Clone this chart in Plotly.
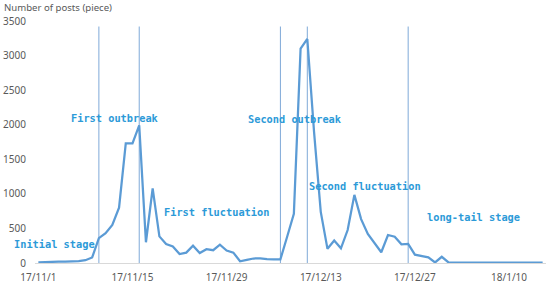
import plotly.graph_objects as go
import pandas as pd

# Daily number of posts, 2017-11-01 .. 2018-01-15
dates = pd.date_range("2017-11-01", "2018-01-15", freq="D").strftime("%Y-%m-%d").tolist()
posts = [8, 15, 18, 20, 20, 22, 28, 40, 80, 360,
         430, 550, 800, 1730, 1730, 1990, 300, 1080, 385, 275,
         240, 130, 150, 250, 145, 200, 185, 265, 180, 150,
         25, 45, 65, 68, 55, 53, 53, 380, 710, 3100,
         3240, 1900, 740, 205, 325, 212, 477, 985, 635, 420,
         285, 155, 405, 380, 270, 275, 120, 105, 82, 8,
         90, 8, 6, 5, 5, 5, 5, 5, 5, 5,
         5, 5, 15, 5, 5, 5]

tick_dates = ["2017-11-01", "2017-11-15", "2017-11-29", "2017-12-13", "2017-12-27", "2018-01-10"]
tick_labels = ["17/11/1", "17/11/15", "17/11/29", "17/12/13", "17/12/27", "18/1/10"]
y_ticks = [0, 500, 1000, 1500, 2000, 2500, 3000, 3500]

stage_lines = ["2017-11-10", "2017-11-16", "2017-12-07", "2017-12-11", "2017-12-26"]
stage_names = ["Initial stage", "First outbreak", "First fluctuation",
               "Second outbreak", "Second fluctuation", "long-tail stage"]
stage_pos_x = [0.039, 0.1575, 0.355, 0.508, 0.645, 0.859]
stage_pos_y = [0.0785, 0.599, 0.211, 0.595, 0.318, 0.191]

fig = go.Figure()
fig.add_trace(go.Scatter(x=dates, y=posts, mode="lines",
                         line=dict(color="#5b9bd5", width=2.25),
                         hoverinfo="x+y", showlegend=False))

for d in stage_lines:
    fig.add_shape(type="line", xref="x", yref="y", x0=d, x1=d, y0=0, y1=3420,
                  line=dict(color="#7fa9d8", width=1), layer="below")

for name, px, py in zip(stage_names, stage_pos_x, stage_pos_y):
    fig.add_annotation(text=name, xref="paper", yref="paper", x=px, y=py,
                       xanchor="center", yanchor="middle", showarrow=False,
                       font=dict(family="DejaVu Sans Mono", size=10.3, color="#2c9ad8",
                                 weight="bold"))

fig.add_annotation(text="Number of posts (piece)", xref="paper", yref="paper",
                   x=-0.064, y=1.055, xanchor="left", yanchor="middle", showarrow=False,
                   font=dict(family="Noto Sans", size=9.6, color="#595959"))

fig.update_layout(
    width=550, height=285,
    margin=dict(l=35, r=4, t=21, b=22),
    plot_bgcolor="white", paper_bgcolor="white",
    xaxis=dict(type="date", range=["2017-10-31 12:00", "2018-01-15 12:00"],
               tickvals=tick_dates, ticktext=tick_labels, showgrid=False,
               showline=True, linecolor="#d9d9d9", linewidth=1, ticks="",
               automargin=False, ticklabelstandoff=5,
               tickfont=dict(family="Noto Sans", size=10, color="#595959"), zeroline=False),
    yaxis=dict(range=[0, 3500], tickvals=y_ticks, showgrid=False, zeroline=False,
               showline=False, ticks="", automargin=False, ticklabelstandoff=8,
               tickfont=dict(family="Noto Sans", size=10, color="#595959")),
)

fig.write_html("out.html", config={"displayModeBar": False},
               post_script="document.body.style.margin='0';")
